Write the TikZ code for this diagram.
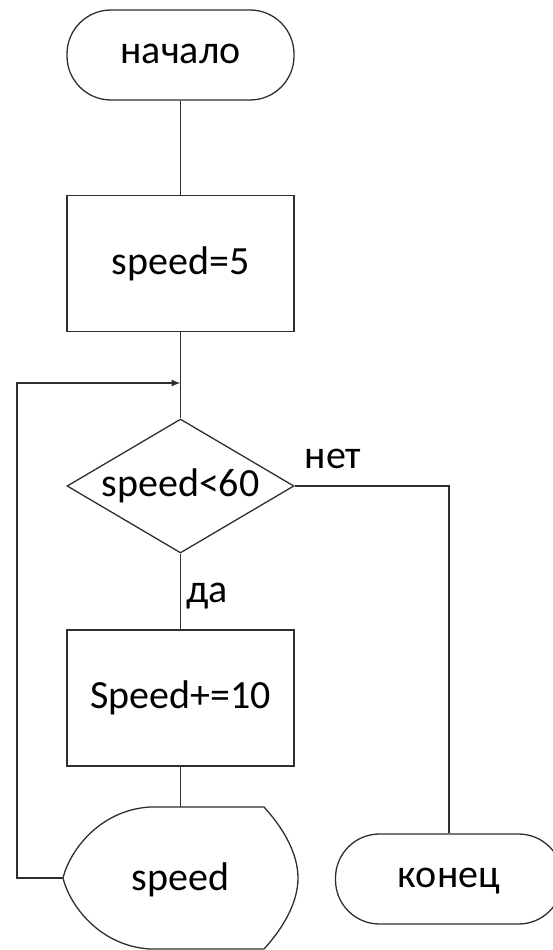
\documentclass[tikz,border=0pt]{standalone}
\usepackage{fontspec}
\setmainfont{Carlito}
\usetikzlibrary{shapes.geometric,arrows.meta}
\begin{document}
\begin{tikzpicture}[x=1pt,y=-1pt,
  line/.style={draw=black!82,line width=1.3pt},
  lbl/.style={font=\fontsize{40}{46}\selectfont,text=black},
  terminal/.style={line,lbl,rectangle,rounded corners=44pt,minimum width=227pt,minimum height=90pt,inner sep=0pt,text height=17pt,text depth=0pt},
  procbox/.style={line,lbl,rectangle,minimum width=227pt,minimum height=136pt,inner sep=0pt},
  decision/.style={line,lbl,diamond,aspect=1.69,minimum width=227pt,minimum height=134pt,inner sep=0pt},
  flow/.style={line},
  arrowflow/.style={line,-{Latex[length=9pt,width=7pt]}}]
\useasboundingbox (0,0) rectangle (553,950);

% blocks
\node[terminal] (start) at (180.5,55) {начало};
\node[procbox]  (init)  at (180.5,263.5) {speed=5};
\node[decision] (cond)  at (180.5,486) {speed<60};
\node[procbox]  (inc)   at (180.5,698) {Speed+=10};
\node[terminal] (stop)  at (449,879) {конец};

% display block
\coordinate (outtop)  at (180.5,807);
\coordinate (outleft) at (63,878);
\draw[line] (150,807) -- (264,807)
  .. controls (285,830) and (298,855) .. (298,878)
  .. controls (298,901) and (285,926) .. (264,949)
  -- (150,949)
  .. controls (100,946) and (70,906) .. (outleft)
  .. controls (70,850) and (100,810) .. (150,807) -- cycle;
\node[lbl] (out) at (180.5,880) {speed};

% loop entry point
\coordinate (loopin) at (180.5,383);
\coordinate (loopcorner) at (17,878);
\coordinate (nocorner) at (449,486);

% connectors
\draw[flow] (start.south) -- (init.north);
\draw[flow] (init.south) -- (cond.north);
\draw[flow] (cond.south) -- (inc.north);
\draw[flow] (inc.south) -- (outtop);
\draw[arrowflow] (outleft) -- (loopcorner) |- (loopin);
\draw[flow] (cond.east) -- (nocorner) -- (stop.north);

% branch labels
\node[lbl] (yes) at (207,596) {да};
\node[lbl] (no)  at (333,459) {нет};
\end{tikzpicture}
\end{document}
